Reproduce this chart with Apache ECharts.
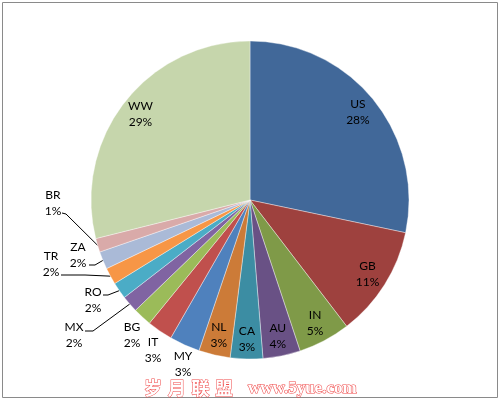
<!DOCTYPE html>
<html>
<head>
<meta charset="utf-8">
<script src="https://cdn.jsdelivr.net/npm/echarts@6/dist/echarts.min.js"></script>
<style>
html,body{margin:0;padding:0;background:#fff;}
#c{width:500px;height:400px;}
</style>
</head>
<body>
<div id="c"></div>
<script>
const names = ['US','GB','IN','AU','CA','NL','MY','IT','BG','MX','RO','TR','ZA','BR','WW'];
const values = [28.3,11.3,5.3,3.8,3.3,3.2,3.1,2.6,1.9,1.7,1.7,1.7,1.8,1.4,28.9];
const colors = ['#416899','#9E413E','#7F9A48','#695185','#3C8DA3','#CC7B38','#4F81BD','#C0504D','#9BBB59','#8064A2','#4BACC6','#F79646','#AABAD7','#D9AAA9','#C6D6AC'];
const outsideNames = ['MY','IT','BG','MX','RO','TR','ZA','BR'];
const noLineNames = ['MY','IT','BG'];
const watermarkChars = ['岁','月','联','盟'];
const watermarkUrl = 'www.5yue.com';

// placement of outside labels (label centre, leader-line bend and end)
const outsidePlacement = {
  MY:{c:[183,364]},
  IT:{c:[153,350]},
  BG:{c:[132,335]},
  MX:{c:[74,335],  line:[[93,331],[85,331]]},
  RO:{c:[93,300],  line:[[108,295],[103,295]]},
  TR:{c:[51,264],  line:[[85,275],[61,275]]},
  ZA:{c:[78,255],  line:[[95,265],[89,265]]},
  BR:{c:[53,203],  line:[[66,214],[62,213]]}
};

const total = values.reduce((a,b)=>a+b,0);
const fmt = p => p.name + '\n' + Math.round(p.value / total * 100) + '%';
const labelFont = {fontFamily:'Lato', fontSize:12, color:'#000', lineHeight:16};

const mainData = names.map((n,i)=>{
  const out = outsideNames.indexOf(n) >= 0;
  return {
    name:n, value:values[i],
    itemStyle:{color:colors[i]},
    label:{show:out},
    labelLine:{show: out && noLineNames.indexOf(n) < 0}
  };
});
const ringData = names.map((n,i)=>({
  name:n, value:values[i],
  label:{show: outsideNames.indexOf(n) < 0}
}));

const graphics = [
  {type:'rect', shape:{x:2.5,y:2.5,width:495,height:395}, style:{fill:'none', stroke:'#8a8a8a', lineWidth:1}, z:-1},
  {type:'text', x:248, y:380, style:{text:watermarkUrl, font:'bold 17px "Liberation Serif"', fill:'#fff', stroke:'#f04848', lineWidth:1.1}}
];
watermarkChars.forEach((ch,i)=>{
  graphics.push({type:'text', x:144 + i*23.7, y:379, style:{text:ch, font:'bold 18px "Noto Sans CJK SC"', fill:'#fff', stroke:'#f04848', lineWidth:1}});
});

const chart = echarts.init(document.getElementById('c'), null, {renderer:'canvas'});
chart.setOption({
  animation:false,
  graphic:graphics,
  series:[
    {
      type:'pie', center:[250,200], radius:[0,159], startAngle:90, clockwise:true,
      avoidLabelOverlap:false, silent:true,
      itemStyle:{borderColor:'rgba(255,255,255,0.55)', borderWidth:0.7},
      label:Object.assign({position:'outside', formatter:fmt}, labelFont),
      labelLine:{length:10, length2:6, lineStyle:{color:'#000', width:1}},
      labelLayout:function(params){
        const name = names[params.dataIndex];
        const pl = outsidePlacement[name];
        if (!pl) return {};
        const res = {x:pl.c[0], y:pl.c[1], align:'center', verticalAlign:'middle'};
        if (pl.line && params.labelLinePoints) {
          res.labelLinePoints = [params.labelLinePoints[0]].concat(pl.line);
        }
        return res;
      },
      emphasis:{disabled:true},
      data:mainData
    },
    {
      type:'pie', center:[250,200], radius:[113,159], startAngle:90, clockwise:true,
      avoidLabelOverlap:false, silent:true,
      itemStyle:{color:'rgba(0,0,0,0)', borderWidth:0},
      label:Object.assign({position:'inside', formatter:fmt, rotate:0}, labelFont),
      labelLine:{show:false},
      emphasis:{disabled:true},
      data:ringData
    }
  ]
});
</script>
</body>
</html>
